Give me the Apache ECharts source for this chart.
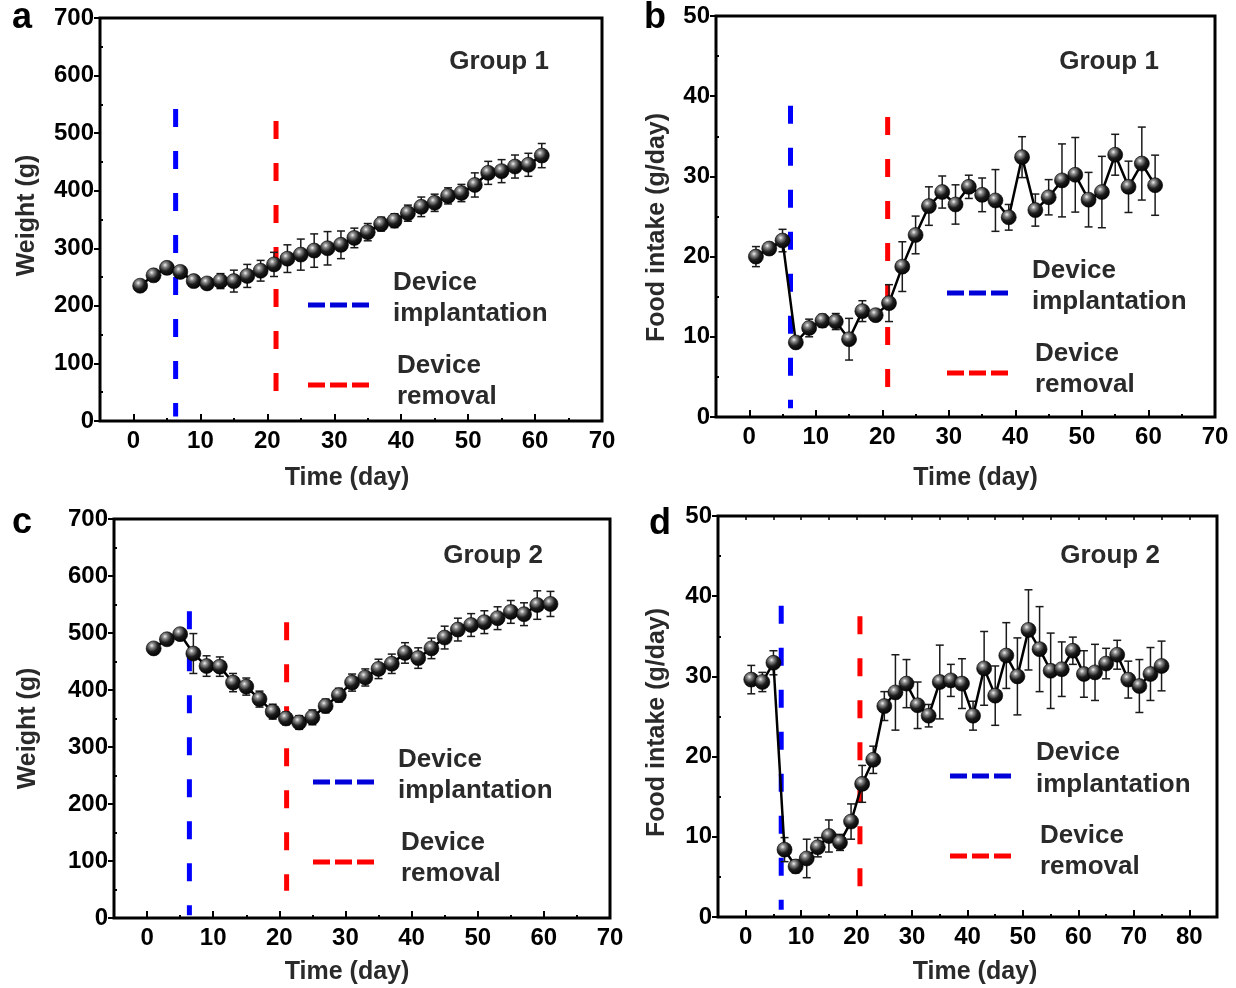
<!DOCTYPE html>
<html><head><meta charset="utf-8">
<script src="https://cdn.jsdelivr.net/npm/echarts@6.0.0/dist/echarts.min.js"></script>
<style>html,body{margin:0;padding:0;background:#fff}#chart{width:1236px;height:988px}</style>
</head><body><div id="chart"></div>
<script>
// ---------------- data ----------------
const daysG1 = [1,3,5,7,9,11,13,15,17,19,21,23,25,27,29,31,33,35,37,39,41,43,45,47,49,51,53,55,57,59,61];
const weightG1 = [235,253,266,259,243,239,243,243,252,261,272,282,289,296,300,306,318,328,342,348,361,372,379,391,396,410,431,434,442,445,461];
const weightErrG1 = [4,5,5,6,6,8,13,19,20,18,21,24,27,29,29,24,17,15,12,12,14,17,15,14,15,21,20,20,20,20,21];
const foodG1 = [20.0,21.0,22.0,9.3,11.1,12.0,11.9,9.7,13.2,12.7,14.2,18.75,22.7,26.3,28.05,26.5,28.7,27.7,27.0,24.9,32.4,25.8,27.4,29.5,30.2,27.1,28.05,32.7,28.7,31.6,28.9];
const foodErrG1 = [1.25,0.4,1.4,0.5,1.1,0.8,1.0,2.6,1.3,0.3,2.3,3.1,2.35,2.4,2.0,2.45,1.45,2.1,3.85,1.6,2.55,2.0,2.2,4.55,4.65,3.4,4.45,2.55,3.2,4.55,3.75];

const daysG2W = [1,3,5,7,9,11,13,15,17,19,21,23,25,27,29,31,33,35,37,39,41,43,45,47,49,51,53,55,57,59,61];
const weightG2 = [473,489,498,464,442,441,413,406,384,362,350,343,352,372,391,413,422,437,446,465,456,473,492,506,514,519,526,537,533,549,551];
const weightErrG2 = [3,3,4,35,18,17,16,15,14,13,11,12,13,12,12,15,15,17,17,18,18,18,20,20,20,20,20,20,20,25,22];

const daysG2F = [1,3,5,7,9,11,13,15,17,19,21,23,25,27,29,31,33,35,37,39,41,43,45,47,49,51,53,55,57,59,61,63,65,67,69,71,73,75];
const foodG2 = [29.6,29.3,31.7,8.4,6.3,7.3,8.7,10.1,9.3,11.9,16.6,19.6,26.3,28.0,29.1,26.4,25.1,29.3,29.5,29.1,25.1,31.0,27.6,32.6,30.0,35.8,33.4,30.7,30.9,33.2,30.3,30.5,31.6,32.7,29.6,28.8,30.3,31.3];
const foodErrG2 = [1.77,1.2,1.5,1.5,0.8,2.4,1.2,2.0,1.0,2.2,2.3,1.7,1.8,4.7,3.0,2.9,1.4,4.6,2.0,3.1,1.8,4.6,3.7,4.1,4.8,5.0,5.3,4.7,3.4,1.7,2.9,3.5,1.9,1.8,2.3,3.3,3.3,3.1];

// event markers (day, and vertical extent [top, bottom] in data units)
const implantDay = [6.3, 6.2, 6.4, 6.4];
const removalDay = [21.3, 20.8, 21.1, 20.6];
const implantSpan = [[542, 8], [38.8, 1.1], [538, 5], [38.8, 0.9]];
const removalSpan = [[521, 50], [37.4, 3.7], [519, 48], [37.5, 3.8]];

// tick labels
const xMajor70 = [0,10,20,30,40,50,60,70];
const xMinor70 = [5,15,25,35,45,55,65];
const xMajor80 = [0,10,20,30,40,50,60,70,80];
const xMinor80 = [5,15,25,35,45,55,65,75];
const yMinorW = [50,150,250,350,450,550,650];
const yMinorF = [5,15,25,35,45];

const groupNames = ['Group 1','Group 1','Group 2','Group 2'];
const panelLetters = ['a','b','c','d'];
const legendLabels = [['Device','implantation'],['Device','removal']];

// ---------------- layout ----------------
const FONT = 'Arial, "Liberation Sans", Helvetica, sans-serif';
const panels = [
  {grid:{left:100,top:18,width:502,height:403}, xmax:70, ymax:700, yint:100, days:daysG1, vals:weightG1, errs:weightErrG1,
   xMajor:xMajor70, xMinor:xMinor70, yMinor:yMinorW, yName:'Weight (g)', yGap:60, xGap:45, xPad:[0,8,0,0], yPad:[0,0,0,8], topTicks:false,
   letterPos:[22,18], groupPos:[499,62], leg:{x1:308,x2:370,bY:305,rY:385,t1:[393,283,314],t2:[397,366,397]}},
  {grid:{left:716,top:16,width:499,height:401}, xmax:70, ymax:50, yint:10, days:daysG1, vals:foodG1, errs:foodErrG1,
   xMajor:xMajor70, xMinor:xMinor70, yMinor:yMinorF, yName:'Food intake (g/day)', yGap:46, xGap:49, xPad:[0,0,0,20], yPad:[0,22,0,0], topTicks:false,
   letterPos:[655,18], groupPos:[1109,62], leg:{x1:947,x2:1009,bY:293,rY:373,t1:[1032,271,302],t2:[1035,354,385]}},
  {grid:{left:114,top:519,width:496,height:399}, xmax:70, ymax:700, yint:100, days:daysG2W, vals:weightG2, errs:weightErrG2,
   xMajor:xMajor70, xMinor:xMinor70, yMinor:yMinorW, yName:'Weight (g)', yGap:73, xGap:42, xPad:[0,30,0,0], yPad:[0,20,0,0], topTicks:false,
   letterPos:[22,523], groupPos:[493,556], leg:{x1:313,x2:375,bY:782,rY:862,t1:[398,760,791],t2:[401,843,874]}},
  {grid:{left:718,top:516,width:499,height:401}, xmax:85, ymax:50, yint:10, days:daysG2F, vals:foodG2, errs:foodErrG2,
   xMajor:xMajor80, xMinor:xMinor80, yMinor:yMinorF, yName:'Food intake (g/day)', yGap:48, xGap:43, xPad:[0,0,0,15], yPad:[0,12,0,0], topTicks:true,
   letterPos:[660,524], groupPos:[1110,556], leg:{x1:950,x2:1012,bY:776,rY:856,t1:[1036,753,785],t2:[1040,836,867]}}
];

function renderErr(params, api){
  const x = api.value(0), y = api.value(1), e = api.value(2);
  const p1 = api.coord([x, y + e]), p2 = api.coord([x, y - e]);
  const cw = 4;
  const st = () => ({stroke:'#1a1a1a', lineWidth:1.5});
  return {type:'group', children:[
    {type:'line', shape:{x1:p1[0],y1:p1[1],x2:p2[0],y2:p2[1]}, style:st()},
    {type:'line', shape:{x1:p1[0]-cw,y1:p1[1],x2:p1[0]+cw,y2:p1[1]}, style:st()},
    {type:'line', shape:{x1:p2[0]-cw,y1:p2[1],x2:p2[0]+cw,y2:p2[1]}, style:st()}
  ]};
}

const ball = {type:'radial', x:0.38, y:0.32, r:0.72, colorStops:[
  {offset:0, color:'#f2f2f2'}, {offset:0.2, color:'#8e8e8e'}, {offset:0.55, color:'#1c1c1c'}, {offset:1, color:'#000'}]};

const grids = [], xAxes = [], yAxes = [], series = [], graphics = [];
const tickLabel = {fontSize:24, fontWeight:'bold', color:'#000', fontFamily:FONT};
const titleBase = {fontSize:25, fontWeight:'bold', color:'#2a2a2a', fontFamily:FONT};

panels.forEach((P, i) => {
  grids.push(Object.assign({show:true, borderColor:'#000', borderWidth:3, containLabel:false}, P.grid));
  const xi = xAxes.length;
  xAxes.push({gridIndex:i, type:'value', min:-5, max:P.xmax, position:'bottom',
    axisLine:{show:false, onZero:false}, splitLine:{show:false},
    axisTick:{show:true, inside:true, length:7, lineStyle:{width:2, color:'#000'}, customValues:P.xMajor},
    axisLabel:Object.assign({margin:8, customValues:P.xMajor}, tickLabel),
    name:'Time (day)', nameLocation:'middle', nameGap:P.xGap, nameTextStyle:Object.assign({padding:P.xPad}, titleBase)});
  xAxes.push({gridIndex:i, type:'value', min:-5, max:P.xmax, position:'bottom',
    axisLine:{show:false, onZero:false}, splitLine:{show:false}, axisLabel:{show:false},
    axisTick:{show:true, inside:true, length:3, lineStyle:{width:2, color:'#000'}, customValues:P.xMinor}});
  if (P.topTicks) {
    xAxes.push({gridIndex:i, type:'value', min:-5, max:P.xmax, position:'top',
      axisLine:{show:false, onZero:false}, splitLine:{show:false}, axisLabel:{show:false},
      axisTick:{show:true, inside:true, length:4, lineStyle:{width:1.5, color:'#000'}, customValues:P.xMajor.concat(P.xMinor)}});
  }
  const yi = yAxes.length;
  yAxes.push({gridIndex:i, type:'value', min:0, max:P.ymax, interval:P.yint, position:'left',
    axisLine:{show:false, onZero:false}, splitLine:{show:false},
    axisTick:{show:true, inside:false, length:6, lineStyle:{width:2, color:'#000'}},
    axisLabel:Object.assign({margin:6}, tickLabel),
    name:P.yName, nameLocation:'middle', nameRotate:90, nameGap:P.yGap, nameTextStyle:Object.assign({padding:P.yPad}, titleBase)});
  yAxes.push({gridIndex:i, type:'value', min:0, max:P.ymax, position:'left',
    axisLine:{show:false, onZero:false}, splitLine:{show:false}, axisLabel:{show:false},
    axisTick:{show:true, inside:true, length:3, lineStyle:{width:2, color:'#000'}, customValues:P.yMinor}});

  const common = {xAxisIndex:xi, yAxisIndex:yi, silent:true, animation:false};
  series.push(Object.assign({type:'line', z:1, showSymbol:false, symbol:'none',
    data:[[implantDay[i], implantSpan[i][0]], [implantDay[i], implantSpan[i][1]]],
    lineStyle:{color:'#0000ff', width:5, type:[18,24], cap:'butt'}}, common));
  series.push(Object.assign({type:'line', z:1, showSymbol:false, symbol:'none',
    data:[[removalDay[i], removalSpan[i][0]], [removalDay[i], removalSpan[i][1]]],
    lineStyle:{color:'#ff0000', width:5, type:[18,24], cap:'butt'}}, common));
  series.push(Object.assign({type:'custom', z:2, renderItem:renderErr, encode:{x:0, y:1},
    data:P.days.map((d,k)=>[d, P.vals[k], P.errs[k]])}, common));
  series.push(Object.assign({type:'line', z:3, symbol:'circle', symbolSize:15, showSymbol:true,
    data:P.days.map((d,k)=>[d, P.vals[k]]),
    lineStyle:{color:'#000', width:2.5},
    itemStyle:{color:ball, borderColor:'#000', borderWidth:0.6}}, common));

  graphics.push({type:'text', style:{text:panelLetters[i], x:P.letterPos[0], y:P.letterPos[1],
    fill:'#000', font:'bold 36px ' + FONT, align:'center', verticalAlign:'middle'}});
  graphics.push({type:'text', style:{text:groupNames[i], x:P.groupPos[0], y:P.groupPos[1],
    fill:'#2a2a2a', font:'bold 26px ' + FONT, align:'center', verticalAlign:'middle'}});
  const L = P.leg;
  graphics.push({type:'line', shape:{x1:L.x1, y1:L.bY, x2:L.x2, y2:L.bY}, style:{stroke:'#0000d8', lineWidth:5, lineDash:[17,5]}});
  graphics.push({type:'line', shape:{x1:L.x1, y1:L.rY, x2:L.x2, y2:L.rY}, style:{stroke:'#ff0000', lineWidth:5, lineDash:[17,5]}});
  const lf = 'bold 26px ' + FONT;
  graphics.push({type:'text', style:{text:legendLabels[0][0], x:L.t1[0], y:L.t1[1], fill:'#2a2a2a', font:lf, verticalAlign:'middle'}});
  graphics.push({type:'text', style:{text:legendLabels[0][1], x:L.t1[0], y:L.t1[2], fill:'#2a2a2a', font:lf, verticalAlign:'middle'}});
  graphics.push({type:'text', style:{text:legendLabels[1][0], x:L.t2[0], y:L.t2[1], fill:'#2a2a2a', font:lf, verticalAlign:'middle'}});
  graphics.push({type:'text', style:{text:legendLabels[1][1], x:L.t2[0], y:L.t2[2], fill:'#2a2a2a', font:lf, verticalAlign:'middle'}});
});

const chart = echarts.init(document.getElementById('chart'), null, {renderer:'canvas'});
chart.setOption({
  animation:false,
  backgroundColor:'#fff',
  grid:grids, xAxis:xAxes, yAxis:yAxes, series:series, graphic:graphics
});
</script>
</body></html>
